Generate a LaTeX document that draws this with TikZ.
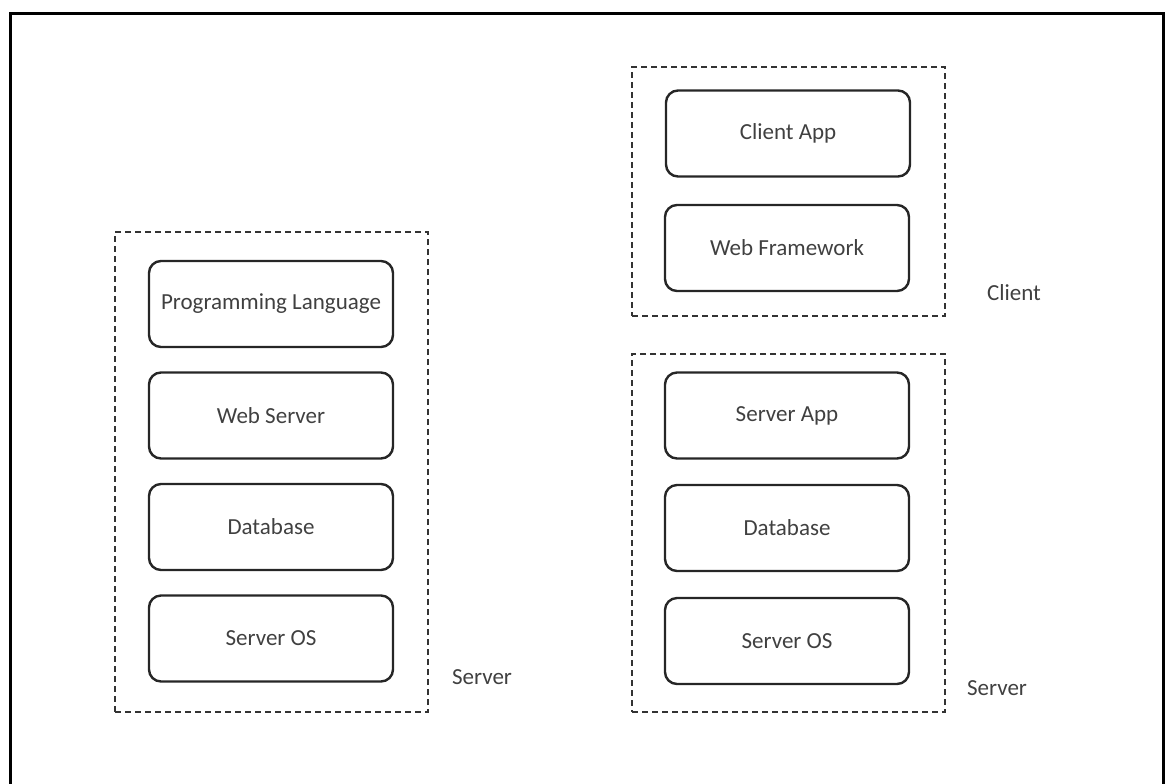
\documentclass[tikz,border=0pt]{standalone}
\usepackage{fontspec}
\setmainfont{Carlito}
\begin{document}
\begin{tikzpicture}[x=0.5pt,y=-0.5pt,
  layer/.style={draw=black!85, line width=1.2pt, rounded corners=6pt, minimum width=122pt, minimum height=43pt, inner sep=0pt, text=black!75, font=\fontsize{11.5}{13}\selectfont},
  grp/.style={draw=black!80, line width=1pt, dash pattern=on 3pt off 2pt, inner sep=0pt},
  lbl/.style={text=black!75, font=\fontsize{11.5}{13}\selectfont, inner sep=0pt}]
\useasboundingbox (0,0) rectangle (1165,783);
\draw[line width=1.5pt] (10,790) -- (10,13) -- (1163,13) -- (1163,790);
% left group
\node[grp, minimum width=156.5pt, minimum height=240pt] (lgrp) at (271.5,472) {};
\node[layer] (lpl) at (271,304) {Programming Language};
\node[layer] (lws) at (271,415.5) {Web Server};
\node[layer] (ldb) at (271,527) {Database};
\node[layer] (los) at (271,638.5) {Server OS};
\node[lbl] (lserver) at (482,677) {Server};
% client group
\node[grp, minimum width=156.5pt, minimum height=124.5pt] (cgrp) at (788.5,191.5) {};
\node[layer] (capp) at (788,133.5) {Client App};
\node[layer] (cwf) at (787,248) {Web Framework};
\node[lbl] (client) at (1014,293) {Client};
% right server group
\node[grp, minimum width=156.5pt, minimum height=179pt] (sgrp) at (788.5,533) {};
\node[layer] (sapp) at (787,415.5) {Server App};
\node[layer] (sdb) at (787,528) {Database};
\node[layer] (sos) at (787,641) {Server OS};
\node[lbl] (rserver) at (997,688) {Server};
\end{tikzpicture}
\end{document}
